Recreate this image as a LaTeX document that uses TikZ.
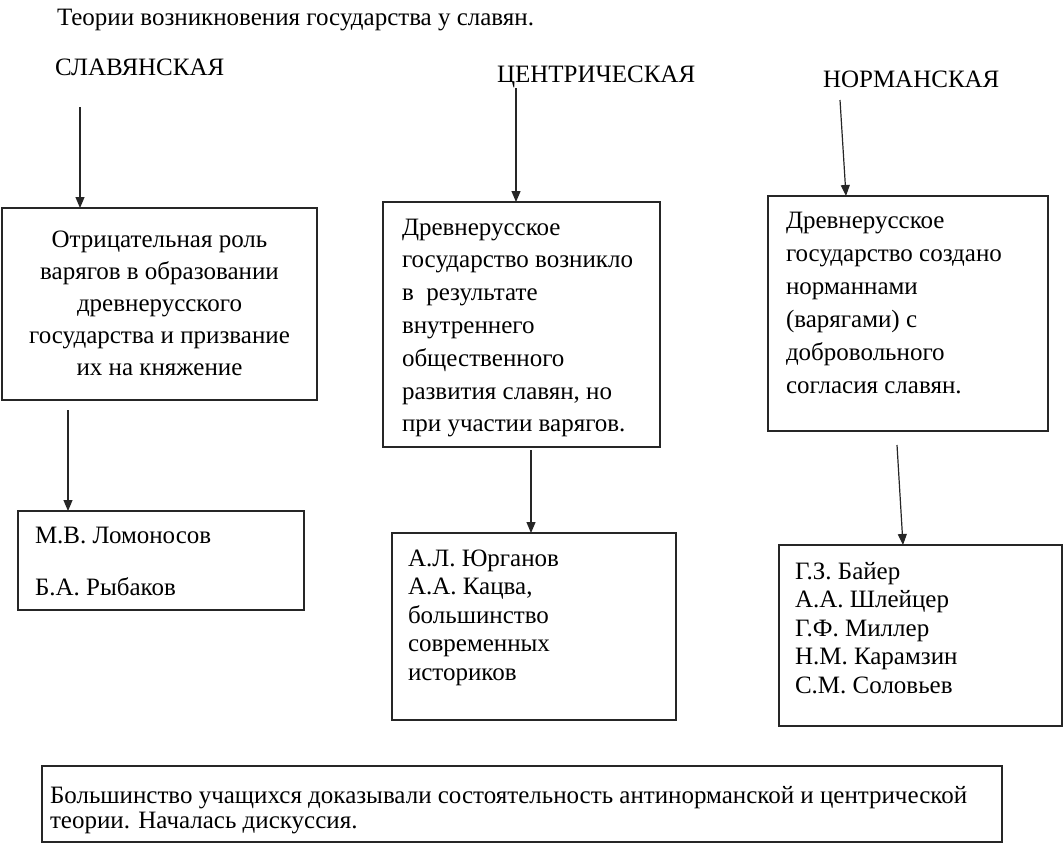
\documentclass[tikz,border=0pt]{standalone}
\usepackage{fontspec}
\setmainfont{Liberation Serif}
\usetikzlibrary{arrows.meta}
\newcommand\fl{\rule{0pt}{18pt}}
\begin{document}
\begin{tikzpicture}[x=1pt,y=-1pt,
  every node/.style={inner sep=0pt, outer sep=0pt},
  txt/.style={font=\fontsize{25}{32}\selectfont, align=left, anchor=north west},
  head/.style={font=\fontsize{25}{30}\selectfont, anchor=base west},
  box/.style={draw=black!85, line width=1.2pt, anchor=north west},
  arr/.style={draw=black!85, line width=1.2pt, -{Triangle[length=11pt,width=9pt]}}]
\useasboundingbox (0,0) rectangle (1064,849);
% headings
\node[head] (title) at (57,25) {Теории возникновения государства у славян.};
\node[head] (h1) at (55,75) {СЛАВЯНСКАЯ};
\node[head] (h2) at (497,82) {ЦЕНТРИЧЕСКАЯ};
\node[head] (h3) at (823,87) {НОРМАНСКАЯ};
% boxes
\node[box, minimum width=315pt, minimum height=192pt] (b1) at (2,208) {};
\node[box, minimum width=277pt, minimum height=245pt] (b2) at (383,202) {};
\node[box, minimum width=280pt, minimum height=235pt] (b3) at (768,196) {};
\node[box, minimum width=286pt, minimum height=99pt] (b4) at (18,511) {};
\node[box, minimum width=284pt, minimum height=187pt] (b5) at (392,533) {};
\node[box, minimum width=283pt, minimum height=181pt] (b6) at (779,545) {};
\node[box, minimum width=960pt, minimum height=76pt] (b7) at (42,766) {};
% texts
\node[txt, align=center, anchor=north] (t1) at ([yshift=-21pt]b1.north) {\fl Отрицательная роль\\варягов в образовании\\древнерусского\\государства и призвание\\их на княжение};
\node[txt, font=\fontsize{25}{32.8}\selectfont] (t2) at ([shift={(19pt,-15pt)}]b2.north west) {\fl Древнерусское\\государство возникло\\в\ \ результате\\внутреннего\\общественного\\развития славян, но\\при участии варягов.};
\node[txt, font=\fontsize{25}{33}\selectfont] (t3) at ([shift={(18pt,-14pt)}]b3.north west) {\fl Древнерусское\\государство создано\\норманнами\\(варягами) с\\добровольного\\согласия славян.};
\node[txt, font=\fontsize{25}{52}\selectfont] (t4) at ([shift={(17pt,-14pt)}]b4.north west) {\fl М.В. Ломоносов\\Б.А. Рыбаков};
\node[txt, font=\fontsize{25}{28.5}\selectfont] (t5) at ([shift={(16pt,-15pt)}]b5.north west) {\fl А.Л. Юрганов\\А.А. Кацва,\\большинство\\современных\\историков};
\node[txt, font=\fontsize{25}{28.5}\selectfont] (t6) at ([shift={(16pt,-16pt)}]b6.north west) {\fl Г.З. Байер\\А.А. Шлейцер\\Г.Ф. Миллер\\Н.М. Карамзин\\С.М. Соловьев};
\node[txt, font=\fontsize{25}{25}\selectfont] (t7) at ([shift={(8pt,-19pt)}]b7.north west) {\fl Большинство учащихся доказывали состоятельность антинорманской и центрической\\теории. Началась дискуссия.};
% arrows
\coordinate (a1s) at (80,107);
\coordinate (a2s) at (516,88);
\coordinate (a3s) at (840,100);
\coordinate (a3e) at (846,196);
\coordinate (a4s) at (68,410);
\coordinate (a5s) at (531,450);
\coordinate (a6s) at (897,445);
\coordinate (a6e) at (903,545);
\draw[arr] (a1s) -- (a1s |- b1.north);
\draw[arr] (a2s) -- (a2s |- b2.north);
\draw[arr] (a3s) -- (a3e);
\draw[arr] (a4s) -- (a4s |- b4.north);
\draw[arr] (a5s) -- (a5s |- b5.north);
\draw[arr] (a6s) -- (a6e);
\end{tikzpicture}
\end{document}
